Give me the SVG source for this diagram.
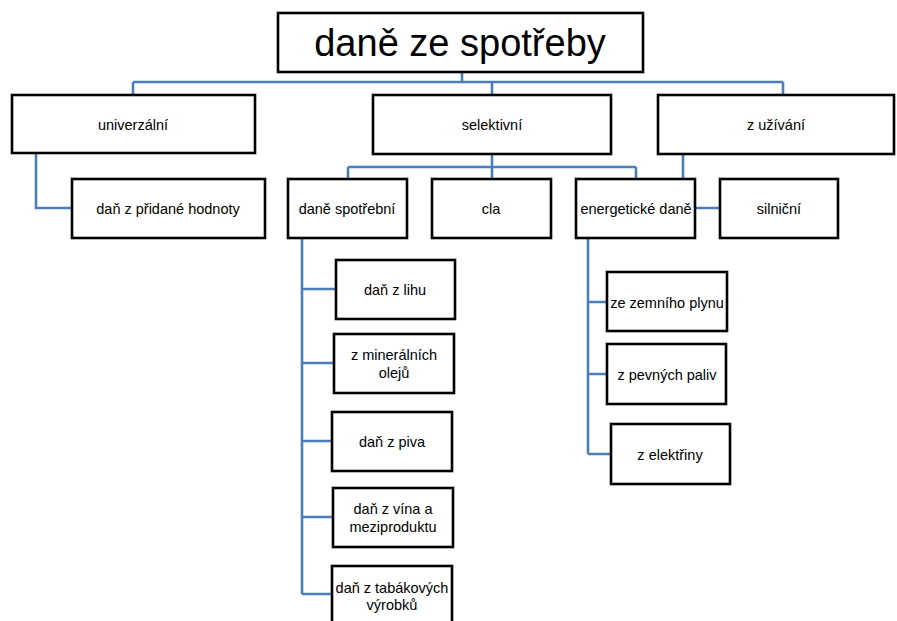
<svg xmlns="http://www.w3.org/2000/svg" width="897" height="621" viewBox="0 0 897 621">
<style>
.box{fill:#fff;stroke:#000;stroke-width:2.6}
.con{fill:none;stroke:#4a7eb8;stroke-width:2.6}
text{font-family:"Liberation Sans",Arial,sans-serif;font-size:14.5px;fill:#000;text-anchor:middle}
.title{font-size:38px}
</style>
<rect width="897" height="621" fill="#fff"/>
<g id="connectors">
<path class="con" d="M462,72V82M133,82H783M133,82V95M492,82V95M783,82V95"/>
<path class="con" d="M36,153V208H72"/>
<path class="con" d="M492,154V179M348,167H636M348,167V179M636,167V179"/>
<path class="con" d="M683,154V208H720"/>
<path class="con" d="M302,238V594M302,289H336M302,363H334M302,441H332M302,517H333M302,594H332"/>
<path class="con" d="M588,238V454M588,302H607M588,374H607M588,454H611"/>
</g>
<g id="root"><rect class="box" x="278" y="13" width="365" height="59"/><text class="title" x="460" y="56">daně ze spotřeby</text></g>
<g id="univerzalni"><rect class="box" x="12" y="95" width="243" height="58"/><text x="133" y="130">univerzální</text></g>
<g id="selektivni"><rect class="box" x="373" y="95" width="238" height="59"/><text x="492" y="130">selektivní</text></g>
<g id="zuzivani"><rect class="box" x="658" y="95" width="236" height="59"/><text x="776" y="130">z užívání</text></g>
<g id="dph"><rect class="box" x="72" y="179" width="193" height="59"/><text x="168" y="214">daň z přidané hodnoty</text></g>
<g id="spotrebni"><rect class="box" x="288" y="179" width="119" height="59"/><text x="347" y="214">daně spotřební</text></g>
<g id="cla"><rect class="box" x="432" y="179" width="119" height="59"/><text x="491" y="214">cla</text></g>
<g id="energeticke"><rect class="box" x="576" y="179" width="119" height="59"/><text x="636" y="214">energetické daně</text></g>
<g id="silnicni"><rect class="box" x="720" y="179" width="118" height="59"/><text x="779" y="214">silniční</text></g>
<g id="lih"><rect class="box" x="336" y="260" width="119" height="59"/><text x="395" y="295">daň z lihu</text></g>
<g id="oleje"><rect class="box" x="334" y="334" width="120" height="59"/><text x="394" y="360">z minerálních</text><text x="394" y="378">olejů</text></g>
<g id="pivo"><rect class="box" x="332" y="412" width="120" height="59"/><text x="392" y="447">daň z piva</text></g>
<g id="vino"><rect class="box" x="333" y="488" width="120" height="59"/><text x="393" y="514">daň z vína a</text><text x="393" y="532">meziproduktu</text></g>
<g id="tabak"><rect class="box" x="332" y="566" width="120" height="70"/><text x="392" y="593">daň z tabákových</text><text x="392" y="610">výrobků</text></g>
<g id="plyn"><rect class="box" x="607" y="272" width="120" height="59"/><text x="667" y="308">ze zemního plynu</text></g>
<g id="paliva"><rect class="box" x="607" y="344" width="119" height="60"/><text x="667" y="380">z pevných paliv</text></g>
<g id="elektrina"><rect class="box" x="611" y="424" width="119" height="60"/><text x="670" y="460">z elektřiny</text></g>
</svg>
